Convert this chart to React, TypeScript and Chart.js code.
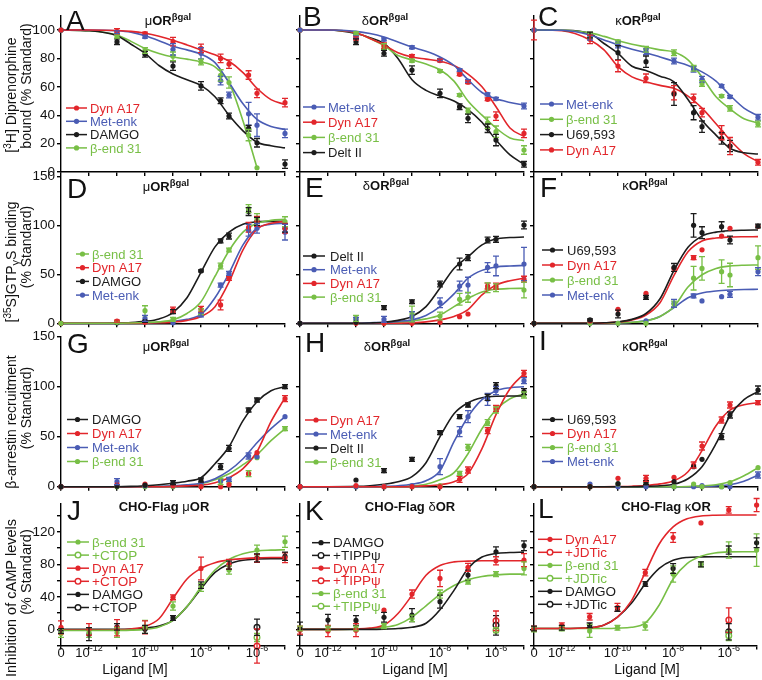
import React, { useEffect, useRef } from 'react';
import { Chart, registerables } from 'chart.js';

Chart.register(...registerables);

// ---------------- data ----------------
// x values are log10 [M]; -13 stands for the "0" (no ligand) dose
const DOSE_BIND = [-13, -11, -10, -9, -8, -7.3, -7, -6.3, -6, -5];
const DOSE_CAMP = [-13, -12, -11, -10, -9, -8, -7, -6, -5];
const DOSE_ANTAG = [-6];
const FIT_X = [-13, -12, -11, -10.5, -10, -9.5, -9, -8.5, -8, -7.5, -7, -6.5, -6, -5.5, -5];
const X_LABEL_POS = [-13, -12, -10, -8, -6];
const X_LABEL_EXP = ['', '-12', '-10', '-8', '-6'];

const ROW_Y_MIN = [0, 0, 0, -20];
const ROW_Y_MAX = [110, 150, 150, 155];
const ROW_Y_STEP = [20, 50, 50, 20];
const ROW_Y_LABEL_EVERY = [20, 50, 50, 40];

// A  [3H] diprenorphine binding, muOR
const A_DYN = [100, 99, 97.5, 91.8, 87, 80, 76, 68.3, 55.4, 48.8];
const A_DYN_ERR = [0, 2, 1, 3, 3, 3, 3, 3, 3, 3];
const A_DYN_FIT = [100, 100, 99.6, 99, 97.7, 95.6, 92.8, 89.5, 86, 82.5, 78, 70, 59, 51, 47.5];
const A_MET = [100, 98.4, 95.3, 86.4, 83.6, 64.3, 54.2, 41, 33, 27.2];
const A_MET_ERR = [0, 1, 1, 4, 4, 3, 2, 8, 8, 3];
const A_MET_FIT = [100, 100, 99.5, 98.5, 96, 92.5, 88.5, 86, 83, 77, 63, 48, 37, 32, 30];
const A_DAMGO = [100, 91.8, 82.9, 74.6, 60.6, 50.2, 39.4, 30.8, 20.6, 5.6];
const A_DAMGO_ERR = [0, 2, 2, 3, 3, 2, 2, 2, 3, 3];
const A_DAMGO_FIT = [100, 99.5, 96, 90, 83.5, 75, 69, 65, 61, 53, 40, 29, 21, 18.5, 17];
const A_BEND = [100, 95.3, 85.5, 81.5, 77.5, 68, 63, 26, 3, null];
const A_BEND_ERR = [0, 1, 2, 3, 2, 4, 4, 4, 0, 0];
const A_BEND_FIT = [100, 99.5, 96.5, 92, 87, 83.5, 81, 79.5, 77.5, 74, 63, 36, 3, null, null];

// B  deltaOR
const B_MET = [100, 95, 93.4, 87.8, 78.9, 71.8, 64.1, 54.7, 51.6, 46.5];
const B_MET_ERR = [0, 1, 1, 1, 1, 1, 1, 1, 1, 2];
const B_MET_FIT = [100, 100, 99, 97.5, 95, 91.5, 88, 85, 81, 75, 65, 56, 51.5, 49, 47];
const B_DYN = [100, 94.1, 89, 81.7, 78.5, 68.8, 63.2, 51.2, 39.4, 27.2];
const B_DYN_ERR = [0, 1, 2, 1, 1, 1, 1, 1, 3, 3];
const B_DYN_FIT = [100, 100, 98, 94, 89.5, 84, 81, 79.5, 78, 75, 69, 60, 46, 31, 25];
const B_BEND = [100, 97.7, 88.3, 78.4, 71.1, 54.2, 43, 34.7, 28.4, 15.5];
const B_BEND_ERR = [0, 1, 2, 1, 1, 1, 2, 4, 4, 3];
const B_BEND_FIT = [100, 100, 98, 94, 89, 82, 79, 76, 72, 64, 50, 40, 31, 24, 22];
const B_DELT = [100, 91.8, 83.6, 71.8, 55.4, 46, 37.8, 30.8, 22.5, 5.4];
const B_DELT_ERR = [0, 2, 2, 3, 3, 2, 3, 3, 4, 2];
const B_DELT_FIT = [100, 100, 97.5, 94.5, 90.5, 80, 65, 57.5, 53.5, 50, 44, 35, 22.5, 12, 5.5];

// C  kappaOR
const C_MET = [100, 94.8, 89.4, 84.7, 78.2, 72.3, 65.3, 60.6, 53, 38.5];
const C_MET_ERR = [0, 2, 2, 2, 2, 2, 2, 1, 1, 2];
const C_MET_FIT = [100, 99.8, 96.5, 93, 89.5, 86.5, 84, 81, 78, 75, 70.5, 64, 54, 45, 39.5];
const C_BEND = [100, 96.5, 91.8, 86.4, 84, 73, 62.4, 53.5, 44.8, 33.8];
const C_BEND_ERR = [0, 2, 1, 2, 2, 2, 2, 1, 2, 2];
const C_BEND_FIT = [100, 99.8, 98, 95.5, 92.5, 90, 88, 86, 84.5, 79, 67, 53, 44.5, 37.5, 34.5];
const C_U69 = [100, 96.5, 84, 77.7, 54.9, 41.8, 31.9, 23.7, 18.3, null];
const C_U69_ERR = [0, 2, 5, 4, 8, 5, 4, 4, 4, 0];
const C_U69_FIT = [100, 99.8, 97.5, 90.5, 83.5, 74.5, 71.5, 67.5, 63.5, 51, 36.5, 26, 16.7, 13.5, 12.7];
const C_DYN = [100, 93.4, 74.6, 66, 55.8, 51.9, 41.8, 27.7, 18.3, 6.8];
const C_DYN_ERR = [7, 3, 4, 3, 5, 3, 3, 5, 6, 2];
const C_DYN_FIT = [100, 99.5, 93, 86, 74.2, 67, 63.6, 61, 58.9, 53.5, 45, 34, 22.5, 13, 7.3];

// D  [35S]GTPgammaS, muOR
const D_BEND = [0, 1, 12.9, 4, 11.9, 58.5, 74.8, 117, 107, 103.7];
const D_BEND_ERR = [0, 1, 5, 2, 3, 3, 2, 4, 5, 5];
const D_BEND_FIT = [0, 0, 0, 0.3, 0.8, 1.5, 3.5, 10, 22, 48, 74, 93, 102, 105, 106];
const D_DYN = [0, 2.3, 1, 13.6, 14.3, 18.7, 45.9, 98, 104, 97];
const D_DYN_ERR = [0, 1, 0, 3, 3, 5, 2, 5, 5, 5];
const D_DYN_FIT = [0, 0, 0, 0, 0.2, 0.5, 1.2, 3, 7, 17, 42, 75, 96, 102, 104];
const D_DAMGO = [0, 0.5, 2, 11.9, 53.4, 84, 89, 114, 104, 97];
const D_DAMGO_ERR = [0, 0, 1, 2, 1, 2, 3, 4, 4, 4];
const D_DAMGO_FIT = [0, 0, 0.3, 0.8, 2, 4.5, 11, 26, 52, 78, 93, 101, 103.5, 104, 104];
const D_MET = [0, 0.5, 5, 0.5, 8.5, 39, 51, 95, 97, 93];
const D_MET_ERR = [0, 0, 3, 0, 2, 2, 2, 6, 5, 8];
const D_MET_FIT = [0, 0, 0, 0, 0.2, 0.8, 2, 4, 9, 26, 51, 80, 97, 101, 102];

// E  deltaOR
const E_DELT = [0, 1, 15.9, 22, 40.1, 60.5, 67, 85, 85.7, 100.3];
const E_DELT_ERR = [0, 0, 2, 2, 3, 6, 3, 3, 3, 4];
const E_DELT_FIT = [0, 0, 0, 0.3, 1, 3, 7, 17, 36, 56, 68, 80, 86.3, 87.5, 88];
const E_MET = [0, 4, 4, 6.8, 21, 38, 39, 57, 58.5, 60.5];
const E_MET_ERR = [0, 2, 3, 5, 5, 5, 8, 5, 10, 17];
const E_MET_FIT = [0, 0, 0, 0.5, 1, 2, 3.5, 8, 17, 30, 46, 54, 57.5, 58.5, 59];
const E_DYN = [0, 0, 0, 0, 1, 6.8, 9.5, 38, 38, 45];
const E_DYN_ERR = [0, 0, 0, 0, 0, 0, 0, 3, 3, 3];
const E_DYN_FIT = [0, 0, 0, 0, 0, 0, 0.5, 1.5, 3.5, 7, 14, 29, 39, 43.5, 46];
const E_BEND = [0, 5, 0, 9.5, 7.4, 24.5, 26.5, 36.3, 36.3, 34];
const E_BEND_ERR = [0, 3, 0, 8, 4, 6, 5, 5, 4, 8];
const E_BEND_FIT = [0, 0, 0, 0, 0.5, 1, 2.5, 4.5, 8.5, 17, 25.5, 32, 34.7, 35.5, 35.7];

// F  kappaOR
const F_U69 = [0, 3.4, 9.5, 26.5, 57, 100, 92.5, 98.6, 85, 99.3];
const F_U69_ERR = [0, 1, 4, 2, 4, 12, 6, 5, 4, 2];
const F_U69_FIT = [0, 0, 0, 0.5, 1.5, 4, 10, 25, 54, 77.5, 89, 93, 94.5, 95, 95.2];
const F_DYN = [0, 2.4, 14.3, 30.6, 56, 67, 75, 89, 97, 99];
const F_DYN_ERR = [0, 0, 0, 0, 0, 2, 0, 0, 0, 0];
const F_DYN_FIT = [0, 0, 0, 0.4, 1.2, 3.5, 8.5, 21, 49, 73, 84, 87, 88, 88.3, 88.4];
const F_BEND = [0, 0, 0, 0, 19.7, 46, 56, 52.7, 49.3, 67];
const F_BEND_ERR = [0, 0, 0, 0, 3, 12, 12, 12, 12, 12];
const F_BEND_FIT = [0, 0, 0, 0, 0.3, 1, 2.5, 7, 17, 37, 49.5, 56, 58.5, 59.3, 59.5];
const F_MET = [0, 0, 0, 2.4, 20.4, 27.9, 22.8, 27.2, 29.6, 52.7];
const F_MET_ERR = [0, 0, 0, 0, 4, 2, 0, 0, 3, 4];
const F_MET_FIT = [0, 0, 0, 0, 0.3, 1, 2.7, 7, 16, 26, 31, 33, 34, 34.5, 34.7];

// G  beta-arrestin, muOR
const G_DAMGO = [0, 0.5, 1.5, 4, 6.7, 20, 38.4, 76.7, 86.7, 100];
const G_DAMGO_ERR = [0, 0, 0, 2, 2, 3, 3, 2, 2, 2];
const G_DAMGO_FIT = [0, 0, 0, 0.3, 1, 2, 3.5, 5.5, 9, 23, 40, 66, 85, 96, 100];
const G_DYN = [0, 2, 2.7, 1, 0, 0, 2, 13, 34, 88];
const G_DYN_ERR = [0, 0, 0, 0, 0, 0, 0, 0, 0, 3];
const G_DYN_FIT = [0, 0, 0, 0, 0, 0, 0.3, 0.8, 1.5, 4, 9, 18, 35, 65, 89];
const G_MET = [0, 5, 1, 1, 2, 6, 7.4, 30.7, 30, 70];
const G_MET_ERR = [0, 3, 0, 0, 0, 0, 2, 3, 0, 0];
const G_MET_FIT = [0, 0, 0, 0, 0, 0.3, 0.8, 1.8, 3.5, 8, 16, 28, 44, 58, 70];
const G_BEND = [0, 0, 0, 0, 1, 5, 4, 13, 29, 58];
const G_BEND_ERR = [0, 0, 0, 0, 0, 3, 0, 3, 0, 2];
const G_BEND_FIT = [0, 0, 0, 0, 0, 0.2, 0.6, 1.5, 3, 7, 13, 22, 32, 46, 58];

// H  deltaOR
const H_DYN = [0, 1, 0, 0, 0, 7.4, 16.7, 56, 78.4, 113.4];
const H_DYN_ERR = [0, 0, 0, 0, 0, 3, 3, 3, 3, 3];
const H_DYN_FIT = [0, 0, 0, 0, 0, 0, 0.2, 0.8, 2, 5, 13, 38, 72, 98, 113];
const H_MET = [0, 0, 0, 1, 20, 55, 70, 87.4, 96, 106];
const H_MET_ERR = [0, 0, 0, 0, 8, 5, 6, 6, 4, 3];
const H_MET_FIT = [0, 0, 0, 0, 0.3, 1, 2.5, 6, 16, 45, 70, 87, 96, 99, 100];
const H_DELT = [0, 6.7, 16, 27.4, 54, 70, 81.7, 89.4, 101, 95];
const H_DELT_ERR = [0, 0, 2, 2, 2, 2, 2, 3, 3, 3];
const H_DELT_FIT = [0, 0, 0.3, 1, 2.5, 5, 10, 24, 50, 73, 84, 89, 90.5, 90.7, 90.7];
const H_BEND = [0, 0, 0, 0, 1, 13.4, 39.4, 64, 76.7, 91.7];
const H_BEND_ERR = [0, 0, 0, 0, 0, 2, 3, 3, 3, 3];
const H_BEND_FIT = [0, 0, 0, 0, 0, 0.2, 0.8, 2.5, 7, 14, 33, 58, 77, 88, 93];

// I  kappaOR
const I_U69 = [0, 0, 3, 4, 5, 20, 27.4, 50, 71.7, 96.7];
const I_U69_ERR = [0, 0, 0, 2, 0, 0, 0, 3, 3, 4];
const I_U69_FIT = [0, 0, 0, 0, 0, 0, 0.3, 1, 2.5, 8, 20, 43, 71, 87, 95];
const I_DYN = [0, 0, 8.4, 8.4, 9.4, 21.7, 40.7, 66.7, 81.7, 84];
const I_DYN_ERR = [0, 0, 0, 3, 0, 3, 4, 3, 3, 2];
const I_DYN_FIT = [0, 0, 0, 0, 0.2, 0.5, 1.2, 2.8, 6, 15, 36, 61, 76.5, 82, 84];
const I_BEND = [0, 0, 2.7, 4, 0, 2.7, 0, 0, 4, 19];
const I_BEND_ERR = [0, 0, 0, 0, 0, 0, 0, 0, 0, 0];
const I_BEND_FIT = [0, 0, 0, 0, 0, 0, 0, 0, 0, 0.2, 0.8, 2, 5, 11, 19];
const I_MET = [0, 2.7, 0, 0, 0, 0, 1, 0, 0, 11.7];
const I_MET_ERR = [0, 0, 0, 0, 0, 0, 0, 0, 0, 3];
const I_MET_FIT = [0, 0, 0, 0, 0, 0, 0, 0, 0, 0, 0.3, 0.8, 2, 5.5, 11.5];

// J  cAMP, CHO-Flag muOR
const J_BEND = [-5, -4, -4, 3, 28.7, 51.7, 73, 97.6, 107.8];
const J_BEND_ERR = [5, 6, 6, 8, 5, 5, 5, 6, 7];
const J_BEND_FIT = [-1.5, -1.5, -1.3, -1, 0, 3, 11, 28, 52, 73, 86, 93, 96.5, 97.5, 98];
const J_DYN = [2.5, 0, 2, 2.5, 39.4, 75, 80, 87.4, 88];
const J_DYN_ERR = [8, 7, 10, 8, 3, 14, 6, 5, 6];
const J_DYN_FIT = [-1, -1, -0.5, 0.5, 3.5, 13, 38, 62, 75, 82, 85.5, 87, 88, 88.5, 88.5];
const J_DAMGO = [-2, -6, 3, 0, 14, 54.5, 79, 88, 90];
const J_DAMGO_ERR = [3, 8, 4, 5, 3, 4, 5, 5, 5];
const J_DAMGO_FIT = [0, 0, 0, 0.3, 1.5, 4, 11, 28, 50, 70, 80.5, 85, 86.5, 87, 87];
const J_BEND_CTOP = [-10];
const J_BEND_CTOP_ERR = [5];
const J_DYN_CTOP = [-20.6];
const J_DYN_CTOP_ERR = [21];
const J_DAMGO_CTOP = [2.5];
const J_DAMGO_CTOP_ERR = [10];

// K  CHO-Flag deltaOR
const K_DAMGO = [1, 11.4, 11, 14.8, 17.6, 34, 66.8, 95.5, 103];
const K_DAMGO_ERR = [8, 7, 6, 6, 8, 8, 6, 6, 6];
const K_DAMGO_FIT = [0, 0, 0, 0, 0.3, 1, 2.5, 7.5, 24, 48, 75, 89, 93.5, 94.5, 95];
const K_DYN = [-1, -2, -1, 23.8, 43.4, 62.7, 76.3, 84.4, 85.3];
const K_DYN_ERR = [5, 7, 8, 0, 5, 10, 5, 5, 8];
const K_DYN_FIT = [0, 0, 0.5, 1.5, 5.3, 19.5, 42, 66.5, 78.5, 83, 84, 84.5, 84.5, 84.5, 84.5];
const K_BEND = [1, 1, 1, 4, 13.5, 43.4, 58.6, 68, 75];
const K_BEND_ERR = [3, 3, 3, 3, 4, 5, 3, 3, 8];
const K_BEND_FIT = [0, 0, 0.3, 1, 2.5, 6, 15, 29, 43, 54, 61, 65, 67, 68, 68];
const K_DAMGO_TIPP = [5];
const K_DAMGO_TIPP_ERR = [12];
const K_DYN_TIPP = [10.6];
const K_DYN_TIPP_ERR = [12];
const K_BEND_TIPP = [-1];
const K_BEND_TIPP_ERR = [3];

// L  CHO-Flag kappaOR
const L_DYN = [1, 5, 15.5, 27, 69.7, 113, 131, 147, 153];
const L_DYN_ERR = [3, 3, 4, 5, 4, 6, 0, 4, 8];
const L_DYN_FIT = [1, 1, 2, 5, 15, 35, 70, 105, 126, 136, 139.5, 140.5, 140.7, 140.7, 140.7];
const L_BEND = [0, 1, -2, 2, 4, 68, 80, 97.6, 97.6];
const L_BEND_ERR = [3, 3, 8, 3, 5, 10, 3, 10, 20];
const L_BEND_FIT = [1, 1, 1, 1, 1.5, 2.5, 8, 30, 62, 81, 90, 94, 95.3, 95.5, 95.5];
const L_DAMGO = [1, 2, 5, 25, 55.8, 75, 80, 97.6, 106.6];
const L_DAMGO_ERR = [3, 3, 3, 3, 3, 6, 3, 5, 6];
const L_DAMGO_FIT = [1, 1, 2, 5, 15, 32, 56, 75, 85, 88.5, 89.2, 89.4, 89.4, 89.4, 89.4];
const L_DYN_JDT = [11.4];
const L_DYN_JDT_ERR = [15];
const L_BEND_JDT = [-8];
const L_BEND_JDT_ERR = [6];
const L_DAMGO_JDT = [-3];
const L_DAMGO_JDT_ERR = [10];

// ---------------- styling / layout ----------------
const RED = '#e2262b';
const BLUE = '#4a5cb4';
const BLACK = '#1c1c1c';
const GREEN = '#78bf46';
const LIB = '"Liberation Sans", Arial, Helvetica, sans-serif';

const W = 762;
const H = 680;
const COL_L = [61, 300, 534];
const COL_R = [285, 524, 758];
const ROW_T = [15.8, 176.3, 336.7, 503.4];
const ROW_B = [172, 323.3, 486.7, 645.6];
const Y_AXIS_W = 40;
const X_AXIS_H = 10;

type Run = { t: string; s: number; b?: boolean; dy?: number };
const R = (t: string, s = 13, b = false, dy = 0): Run => ({ t, s, b, dy });
const fnt = (s: number, b?: boolean) => `${b ? 'bold ' : ''}${s}px ${LIB}`;

type Series = {
  label: string;
  color: string;
  dose: number[];
  pts: (number | null)[];
  err: number[];
  fit?: (number | null)[];
  open?: boolean;
};
const S = (
  label: string, color: string, dose: number[], pts: (number | null)[], err: number[],
  fit?: (number | null)[], open = false
): Series => ({ label, color, dose, pts, err, fit, open });

type Legend = { x1: number; x2: number; tx: number; y0: number; dy: number };
type PanelSpec = {
  letter: string; row: number; col: number; rec: string;
  letterPos: [number, number]; titlePos: [number, number];
  legend: Legend; series: Series[];
};

const PANELS: PanelSpec[] = [
  { letter: 'A', row: 0, col: 0, rec: 'μ', letterPos: [66, 30], titlePos: [168, 25],
    legend: { x1: 66, x2: 87, tx: 90, y0: 108, dy: 13.3 },
    series: [
      S('Dyn A17', RED, DOSE_BIND, A_DYN, A_DYN_ERR, A_DYN_FIT),
      S('Met-enk', BLUE, DOSE_BIND, A_MET, A_MET_ERR, A_MET_FIT),
      S('DAMGO', BLACK, DOSE_BIND, A_DAMGO, A_DAMGO_ERR, A_DAMGO_FIT),
      S('β-end 31', GREEN, DOSE_BIND, A_BEND, A_BEND_ERR, A_BEND_FIT),
    ] },
  { letter: 'B', row: 0, col: 1, rec: 'δ', letterPos: [303, 26], titlePos: [385, 25],
    legend: { x1: 303, x2: 325, tx: 328, y0: 107, dy: 15.2 },
    series: [
      S('Met-enk', BLUE, DOSE_BIND, B_MET, B_MET_ERR, B_MET_FIT),
      S('Dyn A17', RED, DOSE_BIND, B_DYN, B_DYN_ERR, B_DYN_FIT),
      S('β-end 31', GREEN, DOSE_BIND, B_BEND, B_BEND_ERR, B_BEND_FIT),
      S('Delt II', BLACK, DOSE_BIND, B_DELT, B_DELT_ERR, B_DELT_FIT),
    ] },
  { letter: 'C', row: 0, col: 2, rec: 'κ', letterPos: [538, 26], titlePos: [638, 25],
    legend: { x1: 540, x2: 563, tx: 566, y0: 104, dy: 15.3 },
    series: [
      S('Met-enk', BLUE, DOSE_BIND, C_MET, C_MET_ERR, C_MET_FIT),
      S('β-end 31', GREEN, DOSE_BIND, C_BEND, C_BEND_ERR, C_BEND_FIT),
      S('U69,593', BLACK, DOSE_BIND, C_U69, C_U69_ERR, C_U69_FIT),
      S('Dyn A17', RED, DOSE_BIND, C_DYN, C_DYN_ERR, C_DYN_FIT),
    ] },
  { letter: 'D', row: 1, col: 0, rec: 'μ', letterPos: [67, 198], titlePos: [166, 191],
    legend: { x1: 76, x2: 89, tx: 92, y0: 254, dy: 13.7 },
    series: [
      S('β-end 31', GREEN, DOSE_BIND, D_BEND, D_BEND_ERR, D_BEND_FIT),
      S('Dyn A17', RED, DOSE_BIND, D_DYN, D_DYN_ERR, D_DYN_FIT),
      S('DAMGO', BLACK, DOSE_BIND, D_DAMGO, D_DAMGO_ERR, D_DAMGO_FIT),
      S('Met-enk', BLUE, DOSE_BIND, D_MET, D_MET_ERR, D_MET_FIT),
    ] },
  { letter: 'E', row: 1, col: 1, rec: 'δ', letterPos: [305, 197], titlePos: [386, 190],
    legend: { x1: 303, x2: 325, tx: 330, y0: 256, dy: 13.7 },
    series: [
      S('Delt II', BLACK, DOSE_BIND, E_DELT, E_DELT_ERR, E_DELT_FIT),
      S('Met-enk', BLUE, DOSE_BIND, E_MET, E_MET_ERR, E_MET_FIT),
      S('Dyn A17', RED, DOSE_BIND, E_DYN, E_DYN_ERR, E_DYN_FIT),
      S('β-end 31', GREEN, DOSE_BIND, E_BEND, E_BEND_ERR, E_BEND_FIT),
    ] },
  { letter: 'F', row: 1, col: 2, rec: 'κ', letterPos: [540, 197], titlePos: [645, 190],
    legend: { x1: 542, x2: 563, tx: 567, y0: 250, dy: 15 },
    series: [
      S('U69,593', BLACK, DOSE_BIND, F_U69, F_U69_ERR, F_U69_FIT),
      S('Dyn A17', RED, DOSE_BIND, F_DYN, F_DYN_ERR, F_DYN_FIT),
      S('β-end 31', GREEN, DOSE_BIND, F_BEND, F_BEND_ERR, F_BEND_FIT),
      S('Met-enk', BLUE, DOSE_BIND, F_MET, F_MET_ERR, F_MET_FIT),
    ] },
  { letter: 'G', row: 2, col: 0, rec: 'μ', letterPos: [67, 353], titlePos: [166, 351],
    legend: { x1: 67, x2: 88, tx: 92, y0: 419.5, dy: 14 },
    series: [
      S('DAMGO', BLACK, DOSE_BIND, G_DAMGO, G_DAMGO_ERR, G_DAMGO_FIT),
      S('Dyn A17', RED, DOSE_BIND, G_DYN, G_DYN_ERR, G_DYN_FIT),
      S('Met-enk', BLUE, DOSE_BIND, G_MET, G_MET_ERR, G_MET_FIT),
      S('β-end 31', GREEN, DOSE_BIND, G_BEND, G_BEND_ERR, G_BEND_FIT),
    ] },
  { letter: 'H', row: 2, col: 1, rec: 'δ', letterPos: [305, 352], titlePos: [387, 351],
    legend: { x1: 305, x2: 327, tx: 330, y0: 420, dy: 14 },
    series: [
      S('Dyn A17', RED, DOSE_BIND, H_DYN, H_DYN_ERR, H_DYN_FIT),
      S('Met-enk', BLUE, DOSE_BIND, H_MET, H_MET_ERR, H_MET_FIT),
      S('Delt II', BLACK, DOSE_BIND, H_DELT, H_DELT_ERR, H_DELT_FIT),
      S('β-end 31', GREEN, DOSE_BIND, H_BEND, H_BEND_ERR, H_BEND_FIT),
    ] },
  { letter: 'I', row: 2, col: 2, rec: 'κ', letterPos: [539, 350], titlePos: [645, 351],
    legend: { x1: 542, x2: 563, tx: 567, y0: 419.5, dy: 14 },
    series: [
      S('U69,593', BLACK, DOSE_BIND, I_U69, I_U69_ERR, I_U69_FIT),
      S('Dyn A17', RED, DOSE_BIND, I_DYN, I_DYN_ERR, I_DYN_FIT),
      S('β-end 31', GREEN, DOSE_BIND, I_BEND, I_BEND_ERR, I_BEND_FIT),
      S('Met-enk', BLUE, DOSE_BIND, I_MET, I_MET_ERR, I_MET_FIT),
    ] },
  { letter: 'J', row: 3, col: 0, rec: 'μ', letterPos: [67, 520], titlePos: [164, 511],
    legend: { x1: 67, x2: 89, tx: 92, y0: 542, dy: 13.1 },
    series: [
      S('β-end 31', GREEN, DOSE_CAMP, J_BEND, J_BEND_ERR, J_BEND_FIT),
      S('+CTOP', GREEN, DOSE_ANTAG, J_BEND_CTOP, J_BEND_CTOP_ERR, undefined, true),
      S('Dyn A17', RED, DOSE_CAMP, J_DYN, J_DYN_ERR, J_DYN_FIT),
      S('+CTOP', RED, DOSE_ANTAG, J_DYN_CTOP, J_DYN_CTOP_ERR, undefined, true),
      S('DAMGO', BLACK, DOSE_CAMP, J_DAMGO, J_DAMGO_ERR, J_DAMGO_FIT),
      S('+CTOP', BLACK, DOSE_ANTAG, J_DAMGO_CTOP, J_DAMGO_CTOP_ERR, undefined, true),
    ] },
  { letter: 'K', row: 3, col: 1, rec: 'δ', letterPos: [305, 520], titlePos: [410, 511],
    legend: { x1: 312, x2: 330, tx: 333, y0: 542.7, dy: 12.7 },
    series: [
      S('DAMGO', BLACK, DOSE_CAMP, K_DAMGO, K_DAMGO_ERR, K_DAMGO_FIT),
      S('+TIPPψ', BLACK, DOSE_ANTAG, K_DAMGO_TIPP, K_DAMGO_TIPP_ERR, undefined, true),
      S('Dyn A17', RED, DOSE_CAMP, K_DYN, K_DYN_ERR, K_DYN_FIT),
      S('+TIPPψ', RED, DOSE_ANTAG, K_DYN_TIPP, K_DYN_TIPP_ERR, undefined, true),
      S('β-end 31', GREEN, DOSE_CAMP, K_BEND, K_BEND_ERR, K_BEND_FIT),
      S('+TIPPψ', GREEN, DOSE_ANTAG, K_BEND_TIPP, K_BEND_TIPP_ERR, undefined, true),
    ] },
  { letter: 'L', row: 3, col: 2, rec: 'κ', letterPos: [538, 518], titlePos: [666, 511],
    legend: { x1: 538, x2: 562, tx: 565, y0: 539.3, dy: 13 },
    series: [
      S('Dyn A17', RED, DOSE_CAMP, L_DYN, L_DYN_ERR, L_DYN_FIT),
      S('+JDTic', RED, DOSE_ANTAG, L_DYN_JDT, L_DYN_JDT_ERR, undefined, true),
      S('β-end 31', GREEN, DOSE_CAMP, L_BEND, L_BEND_ERR, L_BEND_FIT),
      S('+JDTic', GREEN, DOSE_ANTAG, L_BEND_JDT, L_BEND_JDT_ERR, undefined, true),
      S('DAMGO', BLACK, DOSE_CAMP, L_DAMGO, L_DAMGO_ERR, L_DAMGO_FIT),
      S('+JDTic', BLACK, DOSE_ANTAG, L_DAMGO_JDT, L_DAMGO_JDT_ERR, undefined, true),
    ] },
];

const Y_TITLES: { runs: Run[]; x: number; y: number }[][] = [
  [
    { runs: [R('[', 14), R('3', 10, false, -5), R('H] Diprenorphine', 14)], x: 11, y: 95 },
    { runs: [R('bound (% Standard)', 14)], x: 26, y: 86 },
  ],
  [
    { runs: [R('[', 14), R('35', 10, false, -5), R('S]GTP', 14), R('γ', 11, false, 3), R('S binding', 14)], x: 11, y: 262 },
    { runs: [R('(% Standard)', 14)], x: 26, y: 247 },
  ],
  [
    { runs: [R('β-arrestin recruitment', 14)], x: 11, y: 422 },
    { runs: [R('(% Standard)', 14)], x: 26, y: 408 },
  ],
  [
    { runs: [R('Inhibition of cAMP levels', 14.5)], x: 11, y: 598 },
    { runs: [R('(% Standard)', 14.5)], x: 26, y: 572 },
  ],
];
const X_TITLE_X = [135, 415, 647];

// ---------------- drawing helpers ----------------
function drawRuns(ctx: CanvasRenderingContext2D, runs: Run[], x: number, y: number, align: 'left' | 'center', color: string) {
  let w = 0;
  for (const r of runs) { ctx.font = fnt(r.s, r.b); w += ctx.measureText(r.t).width; }
  let cx = align === 'center' ? x - w / 2 : x;
  ctx.fillStyle = color;
  ctx.textAlign = 'left';
  ctx.textBaseline = 'alphabetic';
  for (const r of runs) {
    ctx.font = fnt(r.s, r.b);
    ctx.fillText(r.t, cx, y + (r.dy || 0));
    cx += ctx.measureText(r.t).width;
  }
}

const errorBarPlugin = {
  id: 'errorBars',
  afterDatasetsDraw(chart: any) {
    const ctx: CanvasRenderingContext2D = chart.ctx;
    const xs = chart.scales.x;
    const ys = chart.scales.y;
    chart.data.datasets.forEach((ds: any) => {
      if (!ds.errs) return;
      ctx.save();
      ctx.strokeStyle = ds.borderColor;
      ctx.lineWidth = 1.3;
      ds.data.forEach((p: any, i: number) => {
        const e = ds.errs[i];
        if (p.y === null || p.y === undefined || !e) return;
        const px = xs.getPixelForValue(p.x);
        const y1 = ys.getPixelForValue(p.y - e);
        const y2 = ys.getPixelForValue(p.y + e);
        ctx.beginPath();
        ctx.moveTo(px, y1); ctx.lineTo(px, y2);
        ctx.moveTo(px - 3, y1); ctx.lineTo(px + 3, y1);
        ctx.moveTo(px - 3, y2); ctx.lineTo(px + 3, y2);
        ctx.stroke();
      });
      ctx.restore();
    });
  },
};

function textPlugin(p: PanelSpec) {
  return {
    id: 'panelText',
    afterDraw(chart: any) {
      const ctx: CanvasRenderingContext2D = chart.ctx;
      ctx.save();
      drawRuns(ctx, [R(p.letter, 28)], p.letterPos[0], p.letterPos[1], 'left', '#111');
      const title = p.row < 3
        ? [R(p.rec, 13), R('OR', 13, true), R('βgal', 9.5, true, -5)]
        : [R('CHO-Flag ', 13, true), R(p.rec, 13), R('OR', 13, true)];
      drawRuns(ctx, title, p.titlePos[0], p.titlePos[1], 'center', '#111');

      const L = p.legend;
      p.series.forEach((s, i) => {
        const y = L.y0 + i * L.dy;
        ctx.strokeStyle = s.color;
        ctx.lineWidth = 1.5;
        ctx.beginPath(); ctx.moveTo(L.x1, y); ctx.lineTo(L.x2, y); ctx.stroke();
        ctx.beginPath();
        ctx.arc((L.x1 + L.x2) / 2, y, s.open ? 2.8 : 2.6, 0, Math.PI * 2);
        ctx.fillStyle = s.open ? '#fff' : s.color;
        ctx.fill();
        if (s.open) { ctx.lineWidth = 1.4; ctx.stroke(); }
        drawRuns(ctx, [R(s.label, p.row === 3 ? 13.5 : 13)], L.tx, y + 4.6, 'left', s.color);
      });

      if (p.col === 0) {
        Y_TITLES[p.row].forEach((t) => {
          ctx.save();
          ctx.translate(t.x, t.y);
          ctx.rotate(-Math.PI / 2);
          drawRuns(ctx, t.runs, 0, 5.1, 'center', '#111');
          ctx.restore();
        });
      }
      if (p.row === 3) {
        const xs = chart.scales.x;
        X_LABEL_POS.forEach((v, i) => {
          const px = xs.getPixelForValue(v);
          const exp = X_LABEL_EXP[i];
          const runs = exp ? [R('10', 13), R(exp, 9, false, -6)] : [R('0', 13)];
          drawRuns(ctx, runs, px, 657, 'center', '#111');
        });
        drawRuns(ctx, [R('Ligand [M]', 14)], X_TITLE_X[p.col], 674, 'center', '#111');
      }
      ctx.restore();
    },
  };
}

function buildConfig(p: PanelSpec): any {
  const datasets: any[] = [];
  p.series.forEach((s) => {
    datasets.push({
      type: 'line',
      showLine: false,
      data: s.dose.map((x, i) => ({ x, y: s.pts[i] })),
      borderColor: s.color,
      pointRadius: s.open ? 2.8 : 2.6,
      pointBackgroundColor: s.open ? '#ffffff' : s.color,
      pointBorderColor: s.color,
      pointBorderWidth: s.open ? 1.4 : 0,
      errs: s.err,
      clip: 8,
      order: 0,
    });
  });
  p.series.forEach((s) => {
    if (!s.fit) return;
    datasets.push({
      type: 'line',
      data: FIT_X.map((x, i) => ({ x, y: s.fit![i] })),
      borderColor: s.color,
      borderWidth: 1.6,
      pointRadius: 0,
      fill: false,
      cubicInterpolationMode: 'monotone',
      spanGaps: false,
      clip: 4,
      order: 1,
    });
  });

  const r = p.row;
  const c = p.col;
  const every = ROW_Y_LABEL_EVERY[r];
  const axisCommon = {
    grid: { display: true, drawOnChartArea: false, drawTicks: true, tickLength: 4, color: '#000', lineWidth: 1.4 },
    border: { display: true, color: '#000', width: 1.4 },
  };
  return {
    type: 'line',
    data: { datasets },
    options: {
      responsive: false,
      maintainAspectRatio: false,
      animation: false,
      events: [],
      layout: {
        padding: {
          left: COL_L[c] - Y_AXIS_W,
          right: W - COL_R[c],
          top: ROW_T[r],
          bottom: H - ROW_B[r] - X_AXIS_H,
        },
      },
      plugins: { legend: { display: false }, tooltip: { enabled: false }, title: { display: false } },
      scales: {
        x: {
          type: 'linear',
          min: -13,
          max: -5,
          ...axisCommon,
          ticks: { stepSize: 1, autoSkip: false, callback: () => '', padding: 0, font: { size: 2 } },
          afterFit: (s: any) => { s.height = X_AXIS_H; },
        },
        y: {
          type: 'linear',
          min: ROW_Y_MIN[r],
          max: ROW_Y_MAX[r],
          ...axisCommon,
          ticks: {
            stepSize: ROW_Y_STEP[r],
            includeBounds: false,
            autoSkip: false,
            padding: 2,
            color: '#111',
            font: { family: LIB, size: 13.5 },
            callback: (v: any) => (c === 0 && Math.round(v) % every === 0 ? String(v) : ''),
          },
          afterFit: (s: any) => { s.width = Y_AXIS_W; },
        },
      },
    },
    plugins: [errorBarPlugin, textPlugin(p)],
  };
}

function PanelChart({ p }: { p: PanelSpec }) {
  const ref = useRef<HTMLCanvasElement>(null);
  useEffect(() => {
    const chart = new Chart(ref.current as HTMLCanvasElement, buildConfig(p));
    return () => chart.destroy();
  }, [p]);
  return (
    <canvas
      ref={ref}
      width={W}
      height={H}
      style={{ position: 'absolute', left: 0, top: 0, width: W, height: H }}
    />
  );
}

export default function App() {
  return (
    <div style={{ position: 'absolute', left: 0, top: 0, width: W, height: H, background: '#fff', overflow: 'hidden' }}>
      {PANELS.map((p) => (
        <PanelChart key={p.letter} p={p} />
      ))}
    </div>
  );
}
